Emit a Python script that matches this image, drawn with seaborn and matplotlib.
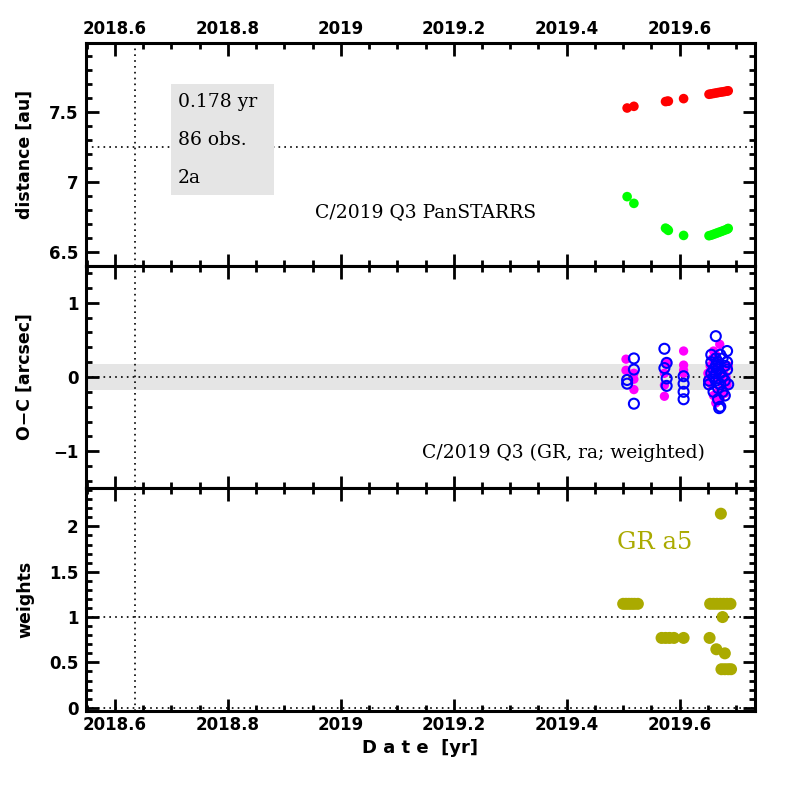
import numpy as np
import seaborn as sns
import matplotlib
matplotlib.use("Agg")
import matplotlib.pyplot as plt
from matplotlib.patches import Rectangle
from matplotlib.ticker import MultipleLocator

# distance panel
distDates = [2019.507, 2019.519, 2019.575, 2019.578, 2019.580, 2019.607, 2019.652, 2019.656,
             2019.660, 2019.664, 2019.668, 2019.672, 2019.676, 2019.680, 2019.684, 2019.686]
distSun = [7.526, 7.538, 7.572, 7.574, 7.575, 7.593, 7.624, 7.627,
           7.630, 7.633, 7.636, 7.639, 7.641, 7.644, 7.647, 7.649]
distEarth = [6.893, 6.845, 6.668, 6.660, 6.652, 6.616, 6.614, 6.618,
             6.624, 6.630, 6.636, 6.642, 6.648, 6.654, 6.660, 6.666]

# O-C panel, ra (filled magenta) and dec (open blue)
raDates = [2019.505, 2019.505, 2019.519, 2019.519, 2019.519,
           2019.573, 2019.573, 2019.573, 2019.577,
           2019.607, 2019.607, 2019.607, 2019.607,
           2019.671, 2019.650, 2019.650, 2019.654, 2019.656, 2019.658, 2019.660, 2019.662,
           2019.664, 2019.664, 2019.666, 2019.668, 2019.670, 2019.672, 2019.674, 2019.676,
           2019.678, 2019.680, 2019.682, 2019.684, 2019.686, 2019.674, 2019.660]
raOC = [0.24, 0.09, 0.05, -0.03, -0.17,
        -0.26, 0.05, -0.11, 0.19,
        0.35, 0.16, 0.09, 0.05,
        0.44, 0.05, -0.05, 0.15, -0.10, 0.25, -0.25, 0.10,
        -0.35, 0.30, 0.00, -0.20, 0.20, -0.30, 0.10, -0.15,
        0.05, -0.22, 0.00, -0.10, 0.15, -0.05, 0.35]
decDates = [2019.519, 2019.519, 2019.507, 2019.507, 2019.519,
            2019.573, 2019.573, 2019.577, 2019.577, 2019.577,
            2019.607, 2019.607, 2019.607, 2019.607,
            2019.664, 2019.684, 2019.652, 2019.652, 2019.656, 2019.656, 2019.660, 2019.660,
            2019.664, 2019.664, 2019.664, 2019.664, 2019.668, 2019.668, 2019.668, 2019.668,
            2019.672, 2019.672, 2019.672, 2019.670, 2019.676, 2019.676, 2019.676, 2019.680,
            2019.680, 2019.680, 2019.684, 2019.686, 2019.684, 2019.660, 2019.656, 2019.672]
decOC = [0.25, 0.10, -0.04, -0.09, -0.36,
         0.38, 0.12, 0.19, -0.02, -0.12,
         0.01, -0.09, -0.20, -0.30,
         0.55, 0.35, -0.05, -0.10, 0.30, 0.20, 0.10, 0.00,
         0.25, 0.15, 0.05, -0.05, 0.20, 0.10, -0.15, -0.30,
         0.05, -0.10, -0.40, -0.42, 0.25, 0.00, -0.20, 0.15,
         -0.05, -0.25, 0.10, -0.10, 0.20, -0.20, 0.05, 0.30]

# weights panel
wDates = [2019.500, 2019.505, 2019.510, 2019.515, 2019.520, 2019.526,
          2019.654, 2019.660, 2019.666, 2019.672, 2019.678, 2019.684, 2019.690,
          2019.673, 2019.676,
          2019.568, 2019.575, 2019.582, 2019.590, 2019.607, 2019.653,
          2019.665, 2019.680,
          2019.674, 2019.680, 2019.686, 2019.691]
weights = [1.146, 1.146, 1.146, 1.146, 1.146, 1.146,
           1.146, 1.146, 1.146, 1.146, 1.146, 1.146, 1.146,
           2.14, 1.0,
           0.77, 0.77, 0.77, 0.77, 0.77, 0.77,
           0.645, 0.60,
           0.425, 0.425, 0.425, 0.425]

xTickLabels = ["2018.6", "2018.8", "2019", "2019.2", "2019.4", "2019.6"]
xTicks = [2018.6, 2018.8, 2019.0, 2019.2, 2019.4, 2019.6]

sns.set_style("ticks", {"axes.edgecolor": "black", "xtick.color": "black", "ytick.color": "black",
                        "text.color": "black", "axes.labelcolor": "black"})
plt.rcParams['font.family'] = ['DejaVu Sans']
plt.rcParams['font.weight'] = 'bold'

fig = plt.figure(figsize=(7.97, 7.97), dpi=100)
gs = fig.add_gridspec(3, 1, left=0.108, right=0.947, top=0.946, bottom=0.108, hspace=0)
axTop = fig.add_subplot(gs[0])
axMid = fig.add_subplot(gs[1], sharex=axTop)
axBot = fig.add_subplot(gs[2], sharex=axTop)

olive = '#aaaa00'
serif = 'DejaVu Serif'
dots = (0, (1, 2.5))

for ax in [axTop, axMid, axBot]:
    ax.axvline(2018.635, color='k', ls=dots, lw=1.2, zorder=1)
    for s in ax.spines.values():
        s.set_linewidth(2.2)
        s.set_color('black')
    ax.tick_params(which='major', direction='in', length=9, width=2, top=True, right=True,
                   labelsize=12, colors='black')
    ax.tick_params(axis='y', which='major', pad=5.5)
    ax.tick_params(which='minor', direction='in', length=4.5, width=2, top=True, right=True,
                   colors='black')
    ax.xaxis.set_minor_locator(MultipleLocator(0.05))

# top panel
axTop.axhline(7.25, color='k', ls=dots, lw=1.2, zorder=1)
sns.scatterplot(x=distDates, y=distSun, ax=axTop, color='#ff0000', s=48, edgecolor='none', zorder=3)
sns.scatterplot(x=distDates, y=distEarth, ax=axTop, color='#00ff00', s=48, edgecolor='none', zorder=3)
axTop.set_ylim(6.4, 7.99)
axTop.set_yticks([6.5, 7, 7.5])
axTop.set_yticklabels(["6.5", "7", "7.5"])
axTop.yaxis.set_minor_locator(MultipleLocator(0.1))
axTop.set_ylabel("distance [au]", fontsize=12.5, fontweight='bold')
axTop.add_patch(Rectangle((0.127, 0.318), 0.154, 0.498, transform=axTop.transAxes,
                          facecolor='#e5e5e5', edgecolor='none', zorder=2))
for yy, txt in [(0.735, "0.178 yr"), (0.565, "86 obs."), (0.395, "2a")]:
    axTop.text(0.1375, yy, txt, transform=axTop.transAxes, fontsize=13.5, family=serif,
               fontweight='normal', va='center', ha='left', zorder=4)
axTop.text(0.507, 0.242, "C/2019 Q3 PanSTARRS", transform=axTop.transAxes, fontsize=13.5,
           family=serif, fontweight='normal', va='center', ha='center')
axTop.tick_params(axis='x', which='both', bottom=True, top=True, labeltop=True, labelbottom=False)

# middle panel
axMid.axhspan(-0.175, 0.175, color='#e5e5e5', lw=0, zorder=0)
axMid.axhline(0, color='k', ls=dots, lw=1.2, zorder=1)
sns.scatterplot(x=raDates, y=raOC, ax=axMid, color='#ff00ff', s=45, edgecolor='none', zorder=3)
sns.scatterplot(x=decDates, y=decOC, ax=axMid, facecolor='none', edgecolor='#0000ff',
                linewidth=1.5, s=52, zorder=4)
axMid.set_ylim(-1.5, 1.5)
axMid.set_yticks([-1, 0, 1])
axMid.set_yticklabels(["\u22121", "0", "1"])
axMid.yaxis.set_minor_locator(MultipleLocator(0.2))
axMid.set_ylabel("O\u2212C [arcsec]", fontsize=12.5, fontweight='bold')
axMid.text(0.925, 0.157, "C/2019 Q3 (GR, ra; weighted)", transform=axMid.transAxes,
           fontsize=13.5, family=serif, fontweight='normal', va='center', ha='right')
axMid.tick_params(axis='x', labelbottom=False)

# bottom panel
axBot.axhline(1, color='k', ls=dots, lw=1.2, zorder=1)
axBot.axhline(0, color='k', ls=dots, lw=1.2, zorder=1)
sns.scatterplot(x=wDates, y=weights, ax=axBot, color=olive, s=75, edgecolor='none', zorder=3)
axBot.set_ylim(-0.035, 2.42)
axBot.set_yticks([0, 0.5, 1, 1.5, 2])
axBot.set_yticklabels(["0", "0.5", "1", "1.5", "2"])
axBot.yaxis.set_minor_locator(MultipleLocator(0.1))
axBot.set_ylabel("weights", fontsize=12.5, fontweight='bold')
axBot.text(0.794, 0.757, "GR a5", transform=axBot.transAxes, fontsize=17.5, family=serif,
           fontweight='normal', color=olive, va='center', ha='left')
axBot.set_xlabel("D a t e  [yr]", fontsize=13, fontweight='bold')

axBot.set_xlim(2018.549, 2019.733)
axBot.set_xticks(xTicks)
axBot.set_xticklabels(xTickLabels)
axTop.set_xticks(xTicks)
axTop.set_xticklabels(xTickLabels)
for ax in [axTop, axMid, axBot]:
    for lab in ax.get_xticklabels() + ax.get_yticklabels():
        lab.set_fontweight('bold')
    ax.yaxis.set_label_coords(-0.078, 0.5)

fig.savefig("out.png", dpi=100)
